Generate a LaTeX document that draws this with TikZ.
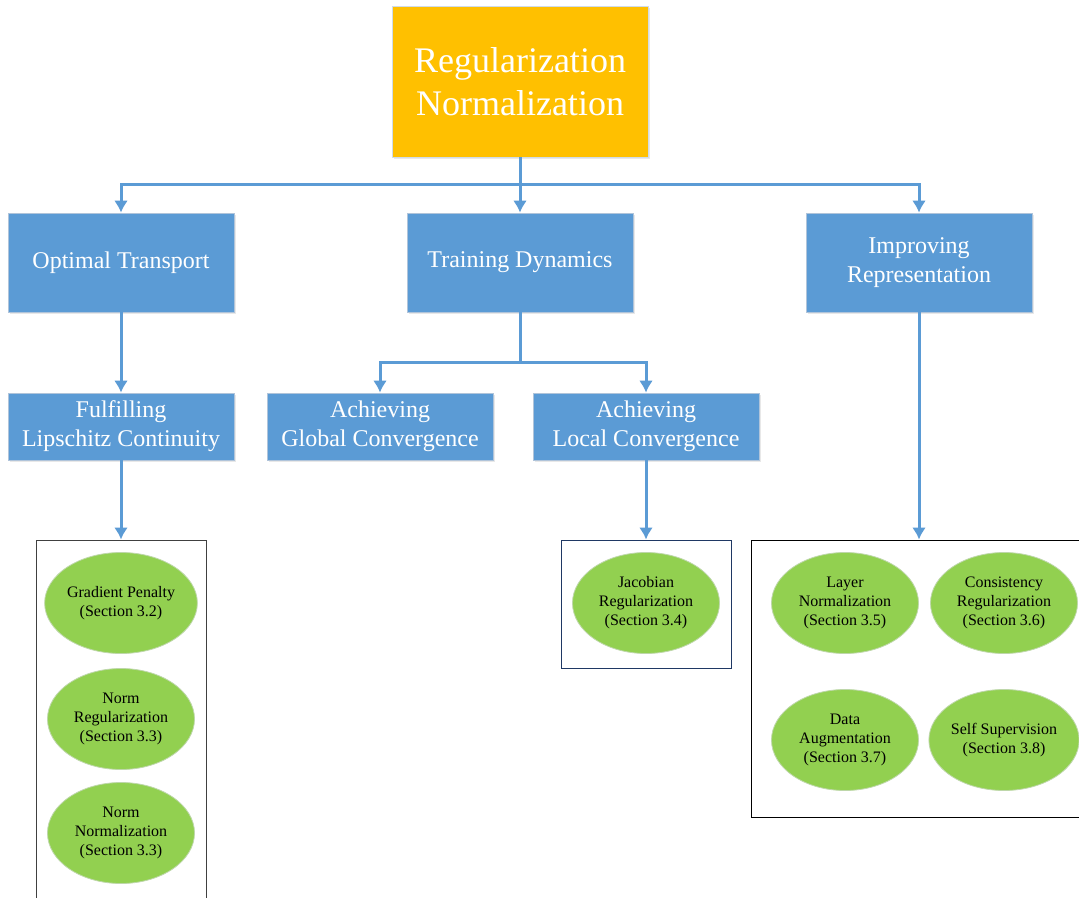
\documentclass[tikz,border=0pt]{standalone}
\usepackage{fontspec}
\setmainfont{Liberation Serif}
\usepackage{tikz}
\usetikzlibrary{arrows.meta}
\usetikzlibrary{shapes.geometric}
\usetikzlibrary{shadows}
\definecolor{rootorange}{RGB}{255,192,0}
\definecolor{boxblue}{RGB}{91,155,213}
\definecolor{leafgreen}{RGB}{146,208,80}
\definecolor{boxedge}{RGB}{176,196,218}
\definecolor{leafedge}{RGB}{190,215,170}
\definecolor{jacnavy}{RGB}{31,56,100}
\tikzset{>={Latex[length=12pt,width=14pt]}}
\tikzset{
    softshadow/.style={drop shadow={opacity=.18, shadow xshift=1.5pt, shadow yshift=-2pt}},
    rootbox/.style={fill=rootorange, draw=boxedge!60!white, line width=.8pt, softshadow,
        text=white, align=center, minimum width=256pt, minimum height=151pt,
        font=\fontsize{36}{43}\selectfont},
    topicbox/.style={fill=boxblue, draw=boxedge, line width=.8pt, softshadow,
        text=white, align=center, minimum width=226pt, font=\fontsize{24}{29}\selectfont},
    leaf/.style={ellipse, fill=leafgreen, draw=leafedge, line width=.8pt,
        align=center, minimum width=147pt, minimum height=101pt, inner sep=0pt,
        font=\fontsize{16}{19}\selectfont},
    groupbox/.style={draw, line width=1pt, inner sep=0pt},
    link/.style={boxblue, line width=3pt, ->}
}

\begin{document}
\begin{tikzpicture}[x=1pt, y=-1pt]
    \clip (0, 0) rectangle (1079, 897);
    \fill[white] (0, 0) rectangle (1079, 897);
    % root and first level
    \node[rootbox] (root) at (520, 81.5) {Regularization\\Normalization};
    \node[topicbox, minimum height=99pt] (ot) at (121, 262.5) {Optimal Transport};
    \node[topicbox, minimum height=99pt] (td) at (520, 262.5) {Training Dynamics};
    \node[topicbox, minimum height=99pt] (ir) at (919, 262.5) {Improving\\Representation};
    \coordinate (bus) at (520, 184);
    \draw[link] (root) -- (bus) -| (ot);
    \draw[link] (bus) -- (td);
    \draw[link] (bus) -| (ir);
    % second level
    \node[topicbox, minimum height=67pt] (lip) at (121, 426.5) {Fulfilling\\Lipschitz Continuity};
    \node[topicbox, minimum height=67pt] (glob) at (380, 426.5) {Achieving\\Global Convergence};
    \node[topicbox, minimum height=67pt] (loc) at (646, 426.5) {Achieving\\Local Convergence};
    \coordinate (split) at (520, 362);
    \draw[link] (ot) -- (lip);
    \draw[boxblue, line width=3pt] (td) -- (split);
    \draw[link] (split) -| (glob);
    \draw[link] (split) -| (loc);
    % groups of methods
    \node[groupbox, draw=black!75, minimum width=170pt, minimum height=367pt] (grpA) at (121, 723.5) {};
    \node[groupbox, draw=jacnavy, minimum width=170pt, minimum height=128pt] (grpB) at (646, 604) {};
    \node[groupbox, draw=black, minimum width=336pt, minimum height=277pt] (grpC) at (919, 678.5) {};
    \draw[link] (lip) -- (grpA);
    \draw[link] (loc) -- (grpB);
    \draw[link] (ir) -- (ir |- grpC.north);
    % leaves
    \node[leaf] (gp) at (121, 603) {Gradient Penalty\\(Section 3.2)};
    \node[leaf] (nreg) at (121, 719) {Norm\\Regularization\\(Section 3.3)};
    \node[leaf] (nnorm) at (121, 833) {Norm\\Normalization\\(Section 3.3)};
    \node[leaf] (jac) at (646, 603) {Jacobian\\Regularization\\(Section 3.4)};
    \node[leaf] (ln) at (845, 603) {Layer\\Normalization\\(Section 3.5)};
    \node[leaf] (cr) at (1004, 603) {Consistency\\Regularization\\(Section 3.6)};
    \node[leaf] (da) at (845, 740) {Data\\Augmentation\\(Section 3.7)};
    \node[leaf] (ss) at (1004, 740) {Self Supervision\\(Section 3.8)};
\end{tikzpicture}
\end{document}
